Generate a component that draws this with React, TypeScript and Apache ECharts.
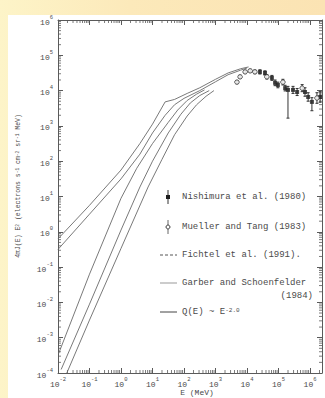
import React, { useEffect, useRef } from "react";
import * as echarts from "echarts";

// ---- axes (log10 units) ----
const xMin = -2;
const xMax = 6.38;
const yMin = -4;
const yMax = 6;
const xDecades = [-2, -1, 0, 1, 2, 3, 4, 5, 6];
const yDecades = [-4, -3, -2, -1, 0, 1, 2, 3, 4, 5, 6];

// ---- model curves: log10 E (MeV), log10 flux ----
const curveA_logE = [-2, -1, 0, 0.6, 1.0, 1.4, 1.7, 2.1, 2.5, 3.0, 3.4, 3.8, 4.05];
const curveA_logF = [-0.2, 0.75, 1.75, 2.5, 3.05, 3.68, 3.75, 3.92, 4.08, 4.32, 4.5, 4.62, 4.67];
const curveB_logE = [-2, -1, 0, 0.6, 1.0, 1.4, 1.7, 2.0, 2.5, 3.0, 3.4, 3.8, 4.0];
const curveB_logF = [-0.5, 0.5, 1.5, 2.2, 2.8, 3.3, 3.6, 3.78, 4.0, 4.25, 4.45, 4.58, 4.64];
const curveC_logE = [-1.98, -1, 0, 0.5, 1.0, 1.5, 1.8, 2.1, 2.4, 2.65];
const curveC_logF = [-3.45, -1.2, 0.95, 1.8, 2.5, 3.1, 3.45, 3.72, 3.9, 4.02];
const curveD_logE = [-1.9, -1, 0, 0.6, 1.0, 1.5, 1.9, 2.2, 2.5, 2.8];
const curveD_logF = [-3.9, -2.05, 0.05, 1.27, 2.0, 2.8, 3.33, 3.65, 3.86, 4.0];
const curveE_logE = [-1.72, -1, 0, 0.86, 1.3, 1.7, 2.1, 2.4, 2.7, 2.95];
const curveE_logF = [-4.0, -2.5, -0.47, 1.27, 2.05, 2.75, 3.28, 3.6, 3.84, 4.0];

// ---- measurements ----
const nishimuraLogE = [4.41, 4.57, 4.79, 4.89, 4.98, 5.21, 5.30, 5.46, 5.59, 5.84, 5.94, 6.06, 6.32];
const nishimuraLogF = [4.53, 4.50, 4.36, 4.22, 4.16, 4.07, 4.02, 4.02, 3.96, 3.96, 3.82, 3.68, 3.82];
const nishimuraErrLo = [0.06, 0.06, 0.07, 0.08, 0.08, 0.08, 0.8, 0.1, 0.1, 0.12, 0.12, 0.25, 0.15];
const nishimuraErrHi = [0.06, 0.06, 0.07, 0.08, 0.08, 0.08, 0.1, 0.1, 0.1, 0.12, 0.12, 0.12, 0.15];
const muellerLogE = [3.68, 3.78, 3.94, 4.10, 4.25, 4.63, 5.14, 5.75, 6.22];
const muellerLogF = [4.24, 4.39, 4.53, 4.56, 4.53, 4.39, 4.24, 4.07, 3.79];
const muellerErr = [0.04, 0.04, 0.04, 0.04, 0.05, 0.06, 0.08, 0.1, 0.15];

const FONT = "'Liberation Mono', 'DejaVu Sans Mono', monospace";
const INK = "#4a4a4a";
const LINE = "#5a5a5a";

function pairs(xs: number[], ys: number[]) {
  return xs.map((x, i) => [x, ys[i]]);
}

export default function App() {
  const ref = useRef<HTMLDivElement>(null);

  useEffect(() => {
    if (!ref.current) return;
    const chart = echarts.init(ref.current, null, { renderer: "svg" });

    const minorX: number[][] = [];
    xDecades.forEach((d) => {
      for (let m = 2; m <= 9; m++) {
        const v = d + Math.log10(m);
        if (v < xMax) minorX.push([v, yMin]);
      }
    });
    const minorY: number[][] = [];
    yDecades.forEach((d) => {
      for (let m = 2; m <= 9; m++) {
        const v = d + Math.log10(m);
        if (v < yMax) minorY.push([xMin, v]);
      }
    });

    const labelFmt = (v: number) => {
      if (Math.abs(v - Math.round(v)) > 1e-6) return "";
      return `{b|10}{s|${Math.round(v)}}`;
    };
    const rich = {
      b: { fontSize: 8, fontFamily: FONT, color: INK, verticalAlign: "bottom", lineHeight: 12 },
      s: { fontSize: 5.5, fontFamily: FONT, color: INK, verticalAlign: "top", lineHeight: 12 },
    };

    const baseAxis = {
      type: "value",
      axisLine: { show: true, onZero: false, lineStyle: { color: LINE, width: 1 } },
      axisTick: { show: true, inside: true, length: 5, lineStyle: { color: LINE, width: 1 } },
      splitLine: { show: false },
    };

    const lineSeries = (name: string, xs: number[], ys: number[], extra: any = {}) => ({
      name,
      type: "line",
      data: pairs(xs, ys),
      showSymbol: false,
      symbol: "none",
      smooth: false,
      lineStyle: { color: "#6a6a6a", width: 0.9, ...extra },
      z: 3,
    });

    const errRender = (params: any, api: any) => {
      const x = api.value(0);
      const lo = api.coord([x, api.value(1)]);
      const hi = api.coord([x, api.value(2)]);
      return {
        type: "group",
        children: [
          { type: "line", shape: { x1: lo[0], y1: lo[1], x2: hi[0], y2: hi[1] }, style: { stroke: "#333", lineWidth: 1 } },
          { type: "line", shape: { x1: lo[0] - 1.5, y1: lo[1], x2: lo[0] + 1.5, y2: lo[1] }, style: { stroke: "#333", lineWidth: 1 } },
          { type: "line", shape: { x1: hi[0] - 1.5, y1: hi[1], x2: hi[0] + 1.5, y2: hi[1] }, style: { stroke: "#333", lineWidth: 1 } },
        ],
      };
    };

    const minorRenderX = (params: any, api: any) => {
      const v = api.value(0);
      const b = api.coord([v, yMin]);
      const t = api.coord([v, yMax]);
      return {
        type: "group",
        children: [
          { type: "line", shape: { x1: b[0], y1: b[1], x2: b[0], y2: b[1] - 3 }, style: { stroke: LINE, lineWidth: 0.8 } },
          { type: "line", shape: { x1: t[0], y1: t[1], x2: t[0], y2: t[1] + 3 }, style: { stroke: LINE, lineWidth: 0.8 } },
        ],
      };
    };
    const minorRenderY = (params: any, api: any) => {
      const v = api.value(1);
      const l = api.coord([xMin, v]);
      const r = api.coord([xMax, v]);
      return {
        type: "group",
        children: [
          { type: "line", shape: { x1: l[0], y1: l[1], x2: l[0] + 3, y2: l[1] }, style: { stroke: LINE, lineWidth: 0.8 } },
          { type: "line", shape: { x1: r[0], y1: r[1], x2: r[0] - 3, y2: r[1] }, style: { stroke: LINE, lineWidth: 0.8 } },
        ],
      };
    };

    const legendX = 182;
    const txt = (text: string, x: number, y: number, align = "left", extra: any = {}) => ({
      type: "text",
      x,
      y,
      style: {
        text,
        fill: INK,
        font: `9px ${FONT}`,
        textAlign: align,
        textVerticalAlign: "middle",
        ...extra,
      },
    });

    chart.setOption({
      animation: false,
      grid: { left: 58, right: 3, top: 20, bottom: 25 },
      xAxis: [
        {
          ...baseAxis,
          position: "bottom",
          min: xMin,
          max: xMax,
          interval: 1,
          axisLabel: { formatter: labelFmt, rich, margin: 3, showMaxLabel: false },
        },
        {
          ...baseAxis,
          position: "top",
          min: xMin,
          max: xMax,
          interval: 1,
          axisLabel: { show: false },
        },
      ],
      yAxis: [
        {
          ...baseAxis,
          position: "left",
          min: yMin,
          max: yMax,
          interval: 1,
          axisLabel: { formatter: labelFmt, rich, margin: 5 },
        },
        {
          ...baseAxis,
          position: "right",
          min: yMin,
          max: yMax,
          interval: 1,
          axisLabel: { show: false },
        },
      ],
      series: [
        lineSeries("Q(E) A", curveA_logE, curveA_logF),
        lineSeries("Q(E) B", curveB_logE, curveB_logF),
        lineSeries("Fichtel", curveC_logE, curveC_logF),
        lineSeries("Garber 1", curveD_logE, curveD_logF),
        lineSeries("Garber 2", curveE_logE, curveE_logF),
        {
          name: "Nishimura err",
          type: "custom",
          renderItem: errRender,
          data: nishimuraLogE.map((x, i) => [x, nishimuraLogF[i] - nishimuraErrLo[i], nishimuraLogF[i] + nishimuraErrHi[i]]),
          z: 4,
        },
        {
          name: "Mueller err",
          type: "custom",
          renderItem: errRender,
          data: muellerLogE.map((x, i) => [x, muellerLogF[i] - muellerErr[i], muellerLogF[i] + muellerErr[i]]),
          z: 4,
        },
        {
          name: "Nishimura et al. (1980)",
          type: "scatter",
          data: pairs(nishimuraLogE, nishimuraLogF),
          symbol: "rect",
          symbolSize: 4,
          itemStyle: { color: "#1e1e1e" },
          z: 5,
        },
        {
          name: "Mueller and Tang (1983)",
          type: "scatter",
          data: pairs(muellerLogE, muellerLogF),
          symbol: "circle",
          symbolSize: 4.5,
          itemStyle: { color: "#ffffff", borderColor: "#333", borderWidth: 1 },
          z: 5,
        },
        { name: "minorX", type: "custom", renderItem: minorRenderX, data: minorX, silent: true },
        { name: "minorY", type: "custom", renderItem: minorRenderY, data: minorY, silent: true },
      ],
      graphic: [
        {
          type: "text",
          x: 18,
          y: 186,
          rotation: Math.PI / 2,
          style: {
            text: "4πJ(E) E{s|2} (electrons s{s|-1} cm{s|-2} sr{s|-1} MeV)",
            fill: INK,
            font: `6.5px ${FONT}`,
            textAlign: "center",
            textVerticalAlign: "middle",
            rich: { s: { fontSize: 4.5, fontFamily: FONT, fill: INK, verticalAlign: "top" } },
          },
        },
        txt("E (MeV)", 197, 392, "center", { font: `8px ${FONT}` }),
        // legend symbols
        { type: "line", shape: { x1: 168, y1: 190, x2: 168, y2: 204 }, style: { stroke: "#333", lineWidth: 1 } },
        { type: "rect", shape: { x: 166, y: 195, width: 4, height: 4 }, style: { fill: "#1e1e1e" } },
        { type: "line", shape: { x1: 168, y1: 220, x2: 168, y2: 234 }, style: { stroke: "#666", lineWidth: 1 } },
        { type: "circle", shape: { cx: 168, cy: 227, r: 2 }, style: { fill: "#fff", stroke: "#444", lineWidth: 1 } },
        { type: "line", shape: { x1: 160, y1: 255, x2: 177, y2: 255 }, style: { stroke: "#555", lineWidth: 1, lineDash: [3, 2] } },
        { type: "line", shape: { x1: 160, y1: 283, x2: 177, y2: 283 }, style: { stroke: "#999", lineWidth: 1 } },
        { type: "line", shape: { x1: 160, y1: 312, x2: 177, y2: 312 }, style: { stroke: "#444", lineWidth: 1 } },
        txt("Nishimura et al. (1980)", legendX, 197),
        txt("Mueller and Tang (1983)", legendX, 227),
        txt("Fichtel et al. (1991).", legendX, 255),
        txt("Garber and Schoenfelder", legendX, 283),
        txt("(1984)", 313, 296, "right"),
        {
          type: "text",
          x: legendX,
          y: 312,
          style: {
            text: "Q(E) ~ E{s|-2.0}",
            fill: INK,
            font: `9px ${FONT}`,
            textVerticalAlign: "middle",
            rich: { s: { fontSize: 6, fontFamily: FONT, fill: INK, verticalAlign: "top" } },
          },
        },
      ],
    });

    return () => chart.dispose();
  }, []);

  return (
    <div
      style={{
        position: "fixed",
        left: 0,
        top: 0,
        width: 325,
        height: 398,
        background: "linear-gradient(to right, #fdf4c8 0%, #fce9ba 40%, #fbe3b3 100%)",
        overflow: "hidden",
      }}
    >
      <div style={{ position: "absolute", left: 8, top: 15, width: 317, height: 383, background: "#ffffff" }} />
      <div ref={ref} style={{ position: "absolute", left: 0, top: 0, width: 325, height: 398 }} />
    </div>
  );
}
